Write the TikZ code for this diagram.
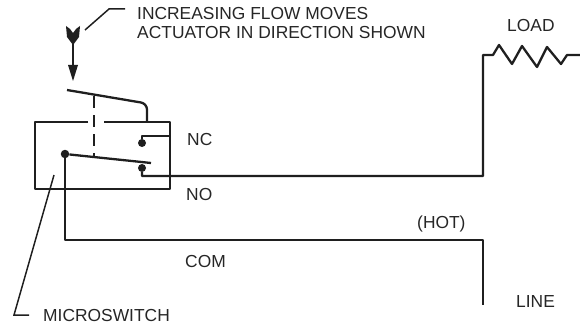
\documentclass[tikz,border=0pt]{standalone}
\usepackage{fontspec}
\setmainfont{Liberation Sans}
\tikzset{
  wire/.style={line width=2.3pt,line join=round,draw=black!88},
  thin wire/.style={line width=1.5pt,draw=black!88},
  lbl/.style={inner sep=0pt,anchor=base west,font=\fontsize{17.4}{20}\selectfont,text=black!85},
  contact/.style={circle,fill=black!88,inner sep=0pt,minimum size=5pt}
}
\begin{document}
\begin{tikzpicture}[x=1pt,y=-1pt]
\useasboundingbox (0,0) rectangle (580,326);
\node[lbl](t1) at (137,20) {INCREASING FLOW MOVES};
\node[lbl](t2) at (137,38.5) {ACTUATOR IN DIRECTION SHOWN};
\node[lbl](load) at (507,32) {LOAD};
\node[lbl](nc) at (187,145) {NC};
\node[lbl](no) at (186,200) {NO};
\node[lbl](hot) at (417,228) {(HOT)};
\node[lbl](com) at (185,267) {COM};
\node[lbl](line) at (516,307) {LINE};
\node[lbl](micro) at (43,321) {MICROSWITCH};
% flow arrow
\coordinate (f1) at (73,43);
\coordinate (f2) at (73,66);
\fill[black!88] (66,26) -- (70,29) -- (73,33) -- (76,29) -- (80,26) -- (79,37) -- (73,45) -- (67,37) -- cycle;
\fill[black!88] (68,65) -- (78,65) -- (73,81) -- cycle;
\draw[thin wire] (f1) -- (f2);
\coordinate (n1) at (85,30);
\coordinate (n2) at (109,9);
\coordinate (n3) at (125,9);
\draw[thin wire] (n1) -- (n2) -- (n3);
% switch body
\coordinate (b1) at (88,122);
\coordinate (b2) at (35,122);
\coordinate (b3) at (35,189);
\coordinate (b4) at (170,189);
\coordinate (b5) at (170,122);
\coordinate (b6) at (104,122);
\draw[wire] (b1) -- (b2) -- (b3) -- (b4) -- (b5) -- (b6);
% actuator
\coordinate (a1) at (67,90);
\coordinate (a2) at (147,103.5);
\coordinate (a3) at (147,122);
\draw[wire,rounded corners=6pt] (a1) -- (a2) -- (a3);
\coordinate (d1) at (94,96);
\coordinate (d2) at (94,157);
\draw[wire,dash pattern=on 12pt off 7pt] (d1) -- (d2);
% contacts
\node[contact,minimum size=8.5pt](piv) at (65,154) {};
\coordinate (arm) at (151,163);
\draw[wire] (piv) -- (arm);
\node[contact,minimum size=8pt](cnc) at (142,143) {};
\coordinate (c1) at (142,136);
\coordinate (c2) at (170,136);
\draw[wire] (cnc) -- (c1) -- (c2);
\node[contact,minimum size=8pt](cno) at (142,168) {};
\coordinate (w1) at (142,176);
\coordinate (w2) at (483,176);
\coordinate (w3) at (483,55);
\draw[wire] (cno) -- (w1) -- (w2) -- (w3) -- (493,55) -- (499,45) -- (512,64) -- (522,46) -- (537,67) -- (547,47) -- (561,64) -- (567,55) -- (580,55);
% line side
\coordinate (w4) at (65,240);
\coordinate (w5) at (483,240);
\coordinate (w6) at (483,305);
\draw[wire] (piv) -- (w4) -- (w5) -- (w6);
\coordinate (m1) at (54,175);
\coordinate (m2) at (14,315);
\coordinate (m3) at (29,315);
\draw[thin wire] (m1) -- (m2) -- (m3);
\end{tikzpicture}
\end{document}
